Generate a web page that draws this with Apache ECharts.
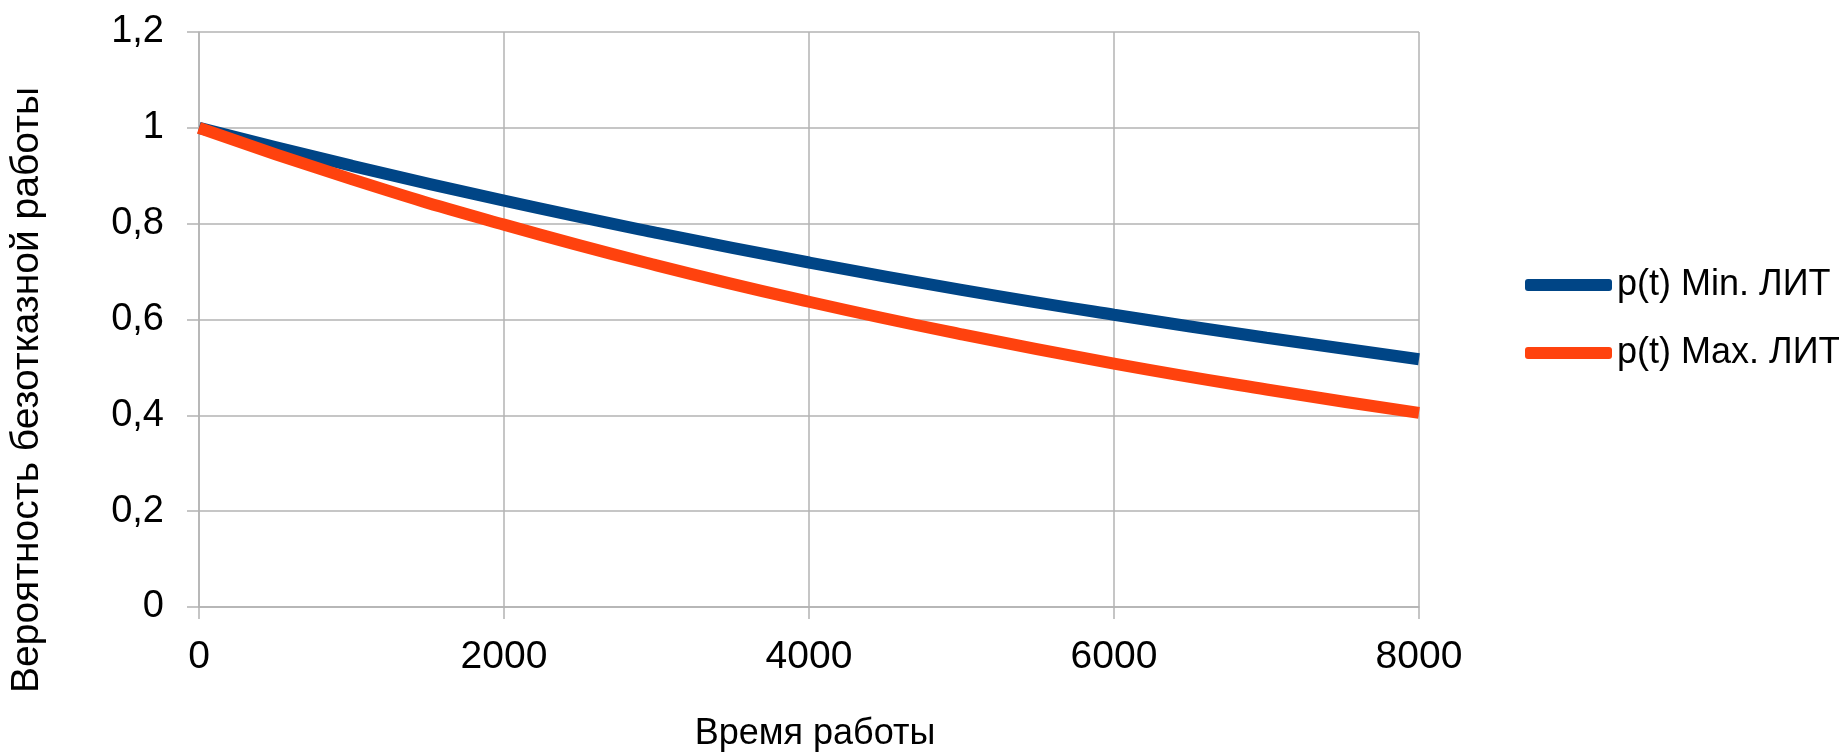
<!DOCTYPE html>
<html>
<head>
<meta charset="utf-8">
<script src="https://cdn.jsdelivr.net/npm/echarts@6/dist/echarts.min.js"></script>
<style>
html,body{margin:0;padding:0;background:#fff;}
#chart{width:1839px;height:756px;}
</style>
</head>
<body>
<div id="chart"></div>
<script>
// Data
const timeValues = [0, 1000, 2000, 3000, 4000, 5000, 6000, 7000, 8000];
const pMin = [1.000, 0.921, 0.848, 0.781, 0.719, 0.662, 0.610, 0.562, 0.517];
const pMax = [1.000, 0.893, 0.798, 0.713, 0.637, 0.569, 0.508, 0.454, 0.405];
const seriesNames = ['p(t) Min. ЛИТ', 'p(t) Max. ЛИТ'];
const xTitle = 'Время работы';
const yTitle = 'Вероятность безотказной работы';

const FONT = '"Liberation Sans", Arial, sans-serif';
const GRID_COLOR = '#b3b3b3';

const chart = echarts.init(document.getElementById('chart'), null, {renderer: 'canvas'});

function pairs(xs, ys) { return xs.map((x, i) => [x, ys[i]]); }

chart.setOption({
  animation: false,
  backgroundColor: '#ffffff',
  grid: {left: 199, right: 420, top: 32, bottom: 149, containLabel: false},
  xAxis: {
    type: 'value', min: 0, max: 8000, interval: 2000,
    axisLine: {show: true, lineStyle: {color: GRID_COLOR, width: 1.5}},
    axisTick: {show: true, length: 12, lineStyle: {color: GRID_COLOR, width: 1.5}},
    splitLine: {show: true, lineStyle: {color: GRID_COLOR, width: 1.5}},
    axisLabel: {color: '#000', fontFamily: FONT, fontSize: 39, margin: 31,
      formatter: v => String(v)}
  },
  yAxis: {
    type: 'value', min: 0, max: 1.2, interval: 0.2,
    axisLine: {show: true, lineStyle: {color: GRID_COLOR, width: 1.5}},
    axisTick: {show: true, length: 12, lineStyle: {color: GRID_COLOR, width: 1.5}},
    splitLine: {show: true, lineStyle: {color: GRID_COLOR, width: 1.5}},
    axisLabel: {
      color: '#000', fontFamily: FONT, fontSize: 38, margin: 35,
      formatter: v => String(Math.round(v * 10) / 10).replace('.', ',')
    }
  },
  legend: {
    orient: 'vertical', left: 1520, top: 262,
    itemWidth: 87, itemHeight: 12, itemGap: 32,
    icon: 'roundRect',
    textStyle: {color: '#000', fontFamily: FONT, fontSize: 36},
    data: seriesNames
  },
  graphic: [
    {
      type: 'text', x: 27, y: 390, rotation: Math.PI / 2,
      style: {text: yTitle, font: '39px ' + FONT, fill: '#000', align: 'center', verticalAlign: 'middle'}
    },
    {
      type: 'text', x: 815, y: 734,
      style: {text: xTitle, font: '36px ' + FONT, fill: '#000', align: 'center', verticalAlign: 'middle'}
    }
  ],
  series: [
    {
      name: seriesNames[0], type: 'line', smooth: true, showSymbol: false,
      data: pairs(timeValues, pMin),
      itemStyle: {color: '#004586'},
      lineStyle: {color: '#004586', width: 12, cap: 'butt'}
    },
    {
      name: seriesNames[1], type: 'line', smooth: true, showSymbol: false,
      data: pairs(timeValues, pMax),
      itemStyle: {color: '#ff420e'},
      lineStyle: {color: '#ff420e', width: 12, cap: 'butt'}
    }
  ]
});
</script>
</body>
</html>
